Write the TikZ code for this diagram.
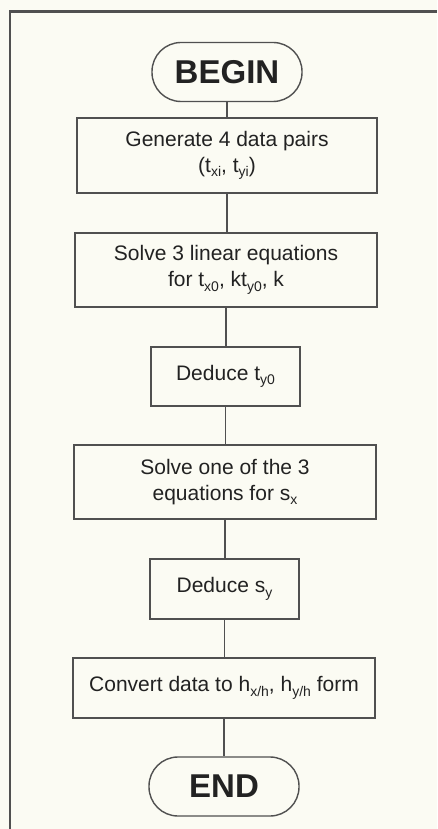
\documentclass[tikz,border=0pt]{standalone}
\usepackage{fontspec}
\setmainfont{Liberation Sans}
\definecolor{bgc}{HTML}{FBFBF3}
\definecolor{linec}{HTML}{505050}
\definecolor{txtc}{HTML}{222222}
\newcommand\sbx[1]{\raisebox{-4.5pt}{\fontsize{14}{14}\selectfont #1}}
\tikzset{
  stepbox/.style={draw=linec, line width=1.4pt, fill=bgc, rectangle, align=center,
    text=txtc, font=\fontsize{21}{26}\selectfont, inner sep=0pt},
  termbox/.style={draw=linec, line width=1.4pt, fill=bgc, rectangle, rounded corners=29pt,
    text=txtc, font=\fontsize{33}{33}\selectfont\bfseries, inner sep=0pt,
    minimum width=150pt, minimum height=59pt},
  conn/.style={draw=linec, line width=1.4pt},
  frame/.style={draw=linec, line width=2.5pt}
}
\begin{document}
\begin{tikzpicture}[x=1pt,y=1pt]
\fill[bgc] (0,0) rectangle (437,-829);
\useasboundingbox (0,0) rectangle (437,-829);
\coordinate (fbl) at (10,-829);
\coordinate (ftl) at (10,-11.5);
\coordinate (ftr) at (437,-11.5);
\draw[frame] (fbl) -- (ftl) -- (ftr);

\node[termbox] (begin) at (227,-72) {BEGIN};
\node[stepbox, minimum width=300pt, minimum height=75pt] (b1) at (227,-155.5)
  {Generate 4 data pairs\\(t\sbx{xi}, t\sbx{yi})};
\node[stepbox, minimum width=302pt, minimum height=74pt] (b2) at (226,-270)
  {Solve 3 linear equations\\for t\sbx{x0}, kt\sbx{y0}, k};
\node[stepbox, minimum width=149pt, minimum height=59pt] (b3) at (225.5,-376.5)
  {Deduce t\sbx{y0}};
\node[stepbox, minimum width=302pt, minimum height=74pt] (b4) at (225,-482)
  {Solve one of the 3\\equations for s\sbx{x}};
\node[stepbox, minimum width=149pt, minimum height=60pt] (b5) at (224.5,-589)
  {Deduce s\sbx{y}};
\node[stepbox, minimum width=302pt, minimum height=60pt] (b6) at (224,-688)
  {Convert data to h\sbx{x/h}, h\sbx{y/h} form};
\node[termbox] (end) at (224,-786.5) {END};

\draw[conn] (begin.south) -- (begin.south |- b1.north);
\draw[conn] (b1.south) -- (b1.south |- b2.north);
\draw[conn] (b2.south) -- (b2.south |- b3.north);
\draw[conn] (b3.south) -- (b3.south |- b4.north);
\draw[conn] (b4.south) -- (b4.south |- b5.north);
\draw[conn] (b5.south) -- (b5.south |- b6.north);
\draw[conn] (b6.south) -- (b6.south |- end.north);
\end{tikzpicture}
\end{document}
